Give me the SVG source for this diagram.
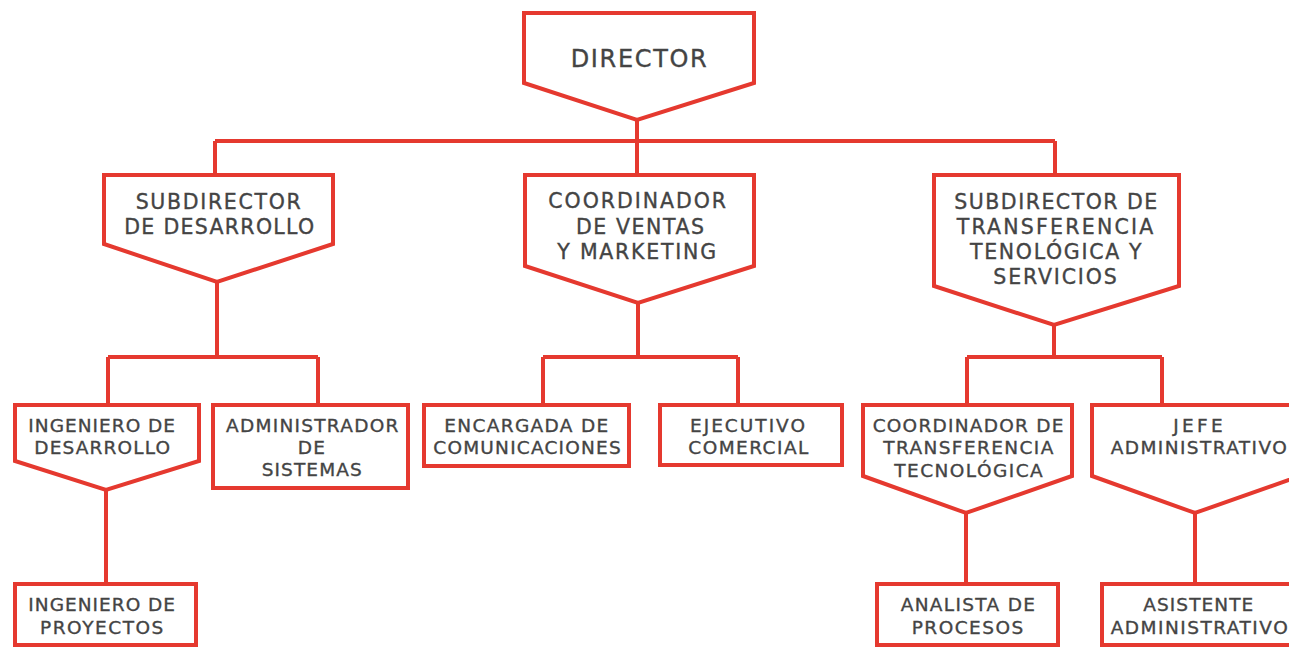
<svg xmlns="http://www.w3.org/2000/svg" width="1289" height="648" viewBox="0 0 1289 648">
<style>
.n{fill:#fff;stroke:#e5392f;stroke-width:4;stroke-linejoin:miter}
.c{fill:none;stroke:#e5392f;stroke-width:4}
text{font-family:"DejaVu Sans","Noto Sans",sans-serif;font-size:18.5px;fill:#444;stroke:#444;stroke-width:0.35px;text-anchor:middle;dominant-baseline:central}
.big{font-size:24px}
.m{font-size:20.5px}
</style>
<rect width="1289" height="648" fill="#fff"/>
<g id="connectors">
<path class="c" d="M637 120V175M215 141H1055M215 141V175M1055 141V175"/>
<path class="c" d="M217 282V357M108 357H318M108 357V405M318 357V405M106 490V585"/>
<path class="c" d="M638 303V357M543 357H738M543 357V405M738 357V405"/>
<path class="c" d="M1054 325V357M967 357H1162M967 357V405M1162 357V405M966 513V585M1195 513V585"/>
</g>
<g id="director"><polygon class="n" points="524,13 754,13 754,83 637,120 524,83"/><text class="big" x="638.7" y="58.5" textLength="136" lengthAdjust="spacing">DIRECTOR</text></g>
<g id="subdirector-desarrollo"><polygon class="n" points="104,175 333,175 333,244 217,282 104,244"/><text class="m" x="218.2" y="201.5" textLength="165" lengthAdjust="spacing">SUBDIRECTOR</text><text class="m" x="219.2" y="226.5" textLength="190" lengthAdjust="spacing">DE DESARROLLO</text></g>
<g id="coordinador-ventas"><polygon class="n" points="525,175 754,175 754,266 638,303 525,266"/><text class="m" x="637.2" y="201" textLength="177.7" lengthAdjust="spacing">COORDINADOR</text><text class="m" x="640" y="226.5" textLength="128" lengthAdjust="spacing">DE VENTAS</text><text class="m" x="636.7" y="252" textLength="158.7" lengthAdjust="spacing">Y MARKETING</text></g>
<g id="subdirector-transferencia"><polygon class="n" points="934,175 1179,175 1179,286 1054,325 934,286"/><text class="m" x="1055.8" y="201.5" textLength="203" lengthAdjust="spacing">SUBDIRECTOR DE</text><text class="m" x="1055" y="226.5" textLength="196.7" lengthAdjust="spacing">TRANSFERENCIA</text><text class="m" x="1055.8" y="251.5" textLength="171.7" lengthAdjust="spacing">TENOLÓGICA Y</text><text class="m" x="1055" y="276.5" textLength="123.3" lengthAdjust="spacing">SERVICIOS</text></g>
<g id="ingeniero-desarrollo"><polygon class="n" points="15,405 199,405 199,461 106,490 15,461"/><text x="101.7" y="425.5" textLength="146.7" lengthAdjust="spacing">INGENIERO DE</text><text x="102.2" y="447.5" textLength="135.7" lengthAdjust="spacing">DESARROLLO</text></g>
<g id="administrador-sistemas"><rect class="n" x="213" y="405" width="195" height="83"/><text x="312.2" y="425.5" textLength="172.3" lengthAdjust="spacing">ADMINISTRADOR</text><text x="311.3" y="447.5" textLength="27.3" lengthAdjust="spacing">DE</text><text x="311.7" y="469.5" textLength="100" lengthAdjust="spacing">SISTEMAS</text></g>
<g id="ingeniero-proyectos"><rect class="n" x="15" y="584" width="181" height="61"/><text x="101.7" y="604.5" textLength="146.7" lengthAdjust="spacing">INGENIERO DE</text><text x="101.7" y="627.5" textLength="123.3" lengthAdjust="spacing">PROYECTOS</text></g>
<g id="encargada-comunicaciones"><rect class="n" x="424" y="405" width="205" height="61"/><text x="526.3" y="425.5" textLength="164" lengthAdjust="spacing">ENCARGADA DE</text><text x="527" y="447.5" textLength="187.3" lengthAdjust="spacing">COMUNICACIONES</text></g>
<g id="ejecutivo-comercial"><rect class="n" x="660" y="405" width="182" height="60"/><text x="747.5" y="425.5" textLength="115" lengthAdjust="spacing">EJECUTIVO</text><text x="748.3" y="447.5" textLength="120" lengthAdjust="spacing">COMERCIAL</text></g>
<g id="coordinador-transferencia"><polygon class="n" points="863,405 1072,405 1072,476 966,513 863,476"/><text x="968" y="425.5" textLength="190.7" lengthAdjust="spacing">COORDINADOR DE</text><text x="968.3" y="447.5" textLength="170" lengthAdjust="spacing">TRANSFERENCIA</text><text x="968.5" y="470.5" textLength="148.3" lengthAdjust="spacing">TECNOLÓGICA</text></g>
<g id="jefe-administrativo"><polygon class="n" points="1092,405 1300,405 1300,476 1195,513 1092,476"/><text x="1198" y="425.5" textLength="49.3" lengthAdjust="spacing">JEFE</text><text x="1198.7" y="447.5" textLength="176" lengthAdjust="spacing">ADMINISTRATIVO</text></g>
<g id="analista-procesos"><rect class="n" x="877" y="584" width="181" height="61"/><text x="967.8" y="604.5" textLength="134.3" lengthAdjust="spacing">ANALISTA DE</text><text x="967.5" y="627.5" textLength="111.7" lengthAdjust="spacing">PROCESOS</text></g>
<g id="asistente-administrativo"><rect class="n" x="1102" y="584" width="195" height="61"/><text x="1198.3" y="604.5" textLength="110" lengthAdjust="spacing">ASISTENTE</text><text x="1199.2" y="627.5" textLength="177" lengthAdjust="spacing">ADMINISTRATIVO</text></g>
</svg>
